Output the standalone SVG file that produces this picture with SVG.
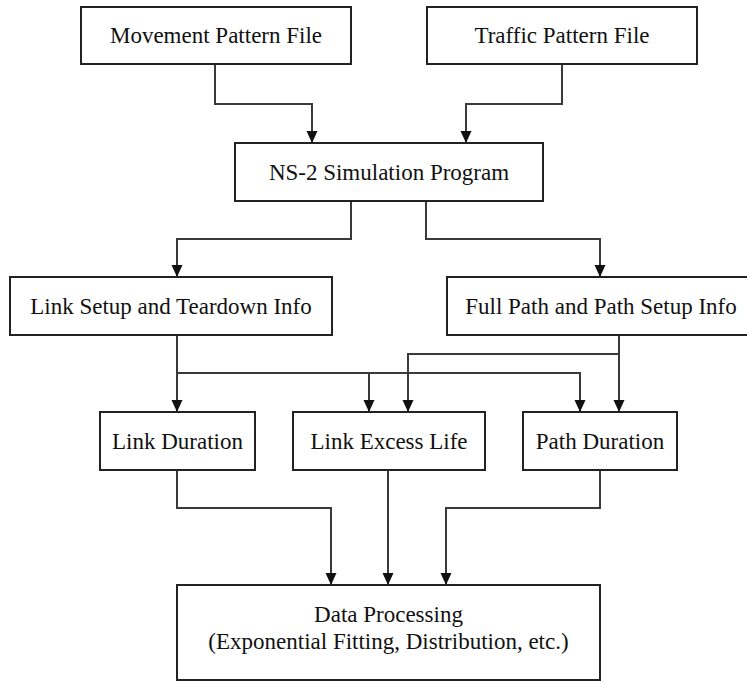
<svg xmlns="http://www.w3.org/2000/svg" width="747" height="682" viewBox="0 0 747 682">
<defs>
<style>
.box{fill:#fff;stroke:#222;stroke-width:2}
.lbl{font-size:23px;fill:#111;text-anchor:middle}
.ln{fill:none;stroke:#3a3a3a;stroke-width:2}
</style>
<marker id="ah" markerUnits="userSpaceOnUse" markerWidth="12" markerHeight="12" refX="12" refY="6" orient="auto" viewBox="0 0 12 12">
<path d="M0,0.5 L12,6 L0,11.5 z" fill="#111"/>
</marker>
</defs>
<rect width="747" height="682" fill="#fff"/>
<g id="connectors">
<path class="ln" d="M215,64 V104 H312 V143" marker-end="url(#ah)"/>
<path class="ln" d="M562,64 V104 H466 V143" marker-end="url(#ah)"/>
<path class="ln" d="M351,201 V239 H177 V277" marker-end="url(#ah)"/>
<path class="ln" d="M426,201 V239 H600 V277" marker-end="url(#ah)"/>
<path class="ln" d="M177,335 V412" marker-end="url(#ah)"/>
<path class="ln" d="M177,373 H369 V412" marker-end="url(#ah)"/>
<path class="ln" d="M369,373 H580 V412" marker-end="url(#ah)"/>
<path class="ln" d="M619,335 V412" marker-end="url(#ah)"/>
<path class="ln" d="M619,354 H408 V412" marker-end="url(#ah)"/>
<path class="ln" d="M177,470 V508 H331 V585" marker-end="url(#ah)"/>
<path class="ln" d="M388,470 V585" marker-end="url(#ah)"/>
<path class="ln" d="M600,470 V508 H446 V585" marker-end="url(#ah)"/>
</g>
<g font-family="'Liberation Serif', 'DejaVu Serif', serif">
<g id="movement">
<rect class="box" x="81" y="7" width="270" height="57"/>
<text class="lbl" x="216" y="43">Movement Pattern File</text>
</g>
<g id="traffic">
<rect class="box" x="427" y="7" width="270" height="57"/>
<text class="lbl" x="562" y="43">Traffic Pattern File</text>
</g>
<g id="ns2">
<rect class="box" x="235" y="143" width="308" height="58"/>
<text class="lbl" x="389" y="180">NS-2 Simulation Program</text>
</g>
<g id="linksetup">
<rect class="box" x="10" y="277" width="322" height="58"/>
<text class="lbl" x="171" y="314">Link Setup and Teardown Info</text>
</g>
<g id="fullpath">
<rect class="box" x="447" y="277" width="308" height="58"/>
<text class="lbl" x="601" y="314">Full Path and Path Setup Info</text>
</g>
<g id="linkduration">
<rect class="box" x="100" y="412" width="155" height="58"/>
<text class="lbl" x="177.5" y="449">Link Duration</text>
</g>
<g id="linkexcess">
<rect class="box" x="293" y="412" width="192" height="58"/>
<text class="lbl" x="389" y="449">Link Excess Life</text>
</g>
<g id="pathduration">
<rect class="box" x="523" y="412" width="154" height="58"/>
<text class="lbl" x="600" y="449">Path Duration</text>
</g>
<g id="dataprocessing">
<rect class="box" x="177" y="585" width="423" height="95"/>
<text class="lbl" x="388.5" y="622">Data Processing</text>
<text class="lbl" x="388.5" y="649">(Exponential Fitting, Distribution, etc.)</text>
</g>
</g>
</svg>
